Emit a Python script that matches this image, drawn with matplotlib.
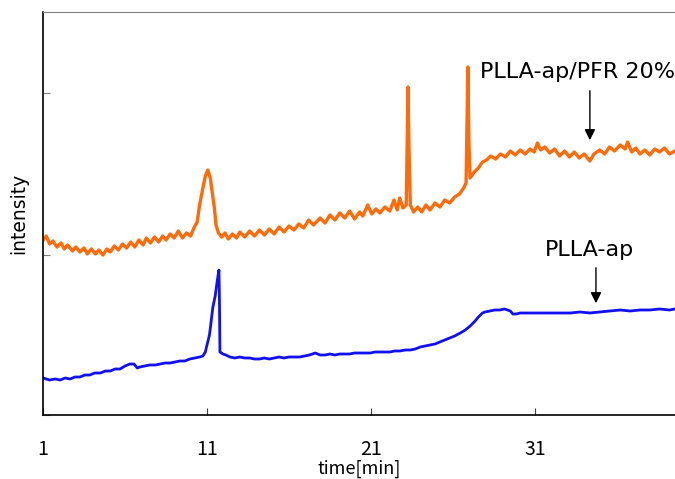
import matplotlib
matplotlib.use("Agg")
import matplotlib.pyplot as plt

# chromatogram traces (time in min, intensity in arbitrary units)
orange_t = [1.0, 1.2, 1.4, 1.6, 1.85, 2.1, 2.3, 2.5, 2.8, 3.0, 3.25, 3.5, 3.7, 3.95, 4.2, 4.4,
            4.65, 4.9, 5.1, 5.35, 5.6, 5.85, 6.1, 6.35, 6.6, 6.85, 7.1, 7.3, 7.55, 7.8, 8.05, 8.3,
            8.5, 8.75, 9.0, 9.25, 9.5, 9.75, 10.0, 10.2, 10.4, 10.55, 10.75, 10.9, 11.05, 11.2,
            11.3, 11.45, 11.55, 11.7, 11.9, 12.1, 12.3, 12.55, 12.8, 13.0, 13.3, 13.6, 13.9, 14.2,
            14.5, 14.8, 15.1, 15.4, 15.7, 16.0, 16.3, 16.6, 16.9, 17.2, 17.5, 17.9, 18.2, 18.5,
            18.8, 19.1, 19.4, 19.7, 20.0, 20.3, 20.5, 20.8, 21.05, 21.3, 21.55, 21.85, 22.15, 22.4,
            22.6, 22.75, 22.95, 23.15, 23.2, 23.26, 23.32, 23.4, 23.6, 23.85, 24.1, 24.35, 24.6,
            24.9, 25.2, 25.5, 25.8, 26.1, 26.4, 26.65, 26.8, 26.86, 26.91, 26.97, 27.04, 27.3,
            27.55, 27.8, 28.05, 28.3, 28.6, 28.9, 29.2, 29.5, 29.8, 30.1, 30.4, 30.7, 30.95, 31.15,
            31.35, 31.6, 31.9, 32.2, 32.5, 32.8, 33.1, 33.4, 33.7, 34.0, 34.35, 34.6, 34.95, 35.25,
            35.55, 35.85, 36.2, 36.5, 36.65, 36.9, 37.15, 37.4, 37.7, 38.0, 38.3, 38.6, 38.9, 39.2,
            39.54]
orange_i = [175, 179, 171, 174, 168, 172, 166, 170, 164, 168, 163, 167, 161, 166, 161, 165,
            160, 166, 163, 169, 165, 171, 167, 173, 168, 175, 170, 177, 172, 178, 173, 179,
            175, 181, 177, 184, 177, 182, 179, 187, 193, 210, 227, 239, 245, 237,
            225, 207, 190, 182, 178, 182, 176, 181, 177, 183, 178, 184, 179, 185,
            180, 186, 181, 188, 183, 189, 185, 191, 187, 195, 190, 197, 192, 200,
            195, 202, 197, 204, 196, 203, 199, 210, 201, 206, 202, 208, 204, 215,
            205, 217, 207, 210, 265, 328, 265, 210, 203, 208, 203, 210, 205,
            212, 208, 215, 212, 218, 221, 227, 232, 295, 348, 275, 237, 243,
            247, 253, 255, 259, 256, 261, 258, 264, 260, 265, 261, 266, 263, 272,
            265, 268, 262, 266, 259, 264, 258, 263, 257, 261, 254, 261, 265, 261,
            268, 264, 270, 266, 273, 263, 267, 261, 265, 260, 266, 263, 267, 261,
            264]

blue_t = [1.0, 1.4, 1.75, 2.05, 2.35, 2.65, 2.95, 3.25, 3.55, 3.85, 4.15, 4.5, 4.8, 5.1, 5.4,
          5.7, 6.0, 6.3, 6.55, 6.75, 6.9, 7.2, 7.5, 7.85, 8.15, 8.45, 8.75, 9.05, 9.35, 9.65,
          9.95, 10.25, 10.55, 10.75, 10.9, 11.0, 11.15, 11.25, 11.35, 11.5, 11.6, 11.67, 11.73,
          11.76, 11.79, 11.97, 12.15, 12.4, 12.7, 13.0, 13.3, 13.6, 13.9, 14.2, 14.5, 14.8,
          15.1, 15.4, 15.7, 16.0, 16.3, 16.65, 16.95, 17.25, 17.6, 17.9, 18.2, 18.5, 18.8,
          19.1, 19.4, 19.7, 20.0, 20.3, 20.6, 20.95, 21.25, 21.55, 21.85, 22.15, 22.45, 22.75,
          23.1, 23.4, 23.7, 24.0, 24.3, 24.6, 24.9, 25.2, 25.5, 25.8, 26.1, 26.45, 26.75,
          27.05, 27.35, 27.55, 27.8, 27.95, 28.25, 28.55, 28.85, 29.15, 29.5, 29.65, 29.85,
          30.1, 30.7, 31.3, 31.9, 32.5, 33.15, 33.75, 34.35, 34.95, 35.55, 36.2, 36.8, 37.4,
          38.0, 38.6, 39.2, 39.54]
blue_i = [37, 35, 36, 35, 37, 36, 38, 38, 40, 40, 42, 42, 44, 44, 46,
          46, 49, 51, 51, 47, 48, 49, 50, 50, 51, 52, 52, 53, 54, 54,
          56, 57, 58, 59, 63, 70, 80, 93, 107, 119, 131, 139, 145,
          115, 63, 61, 60, 58, 57, 58, 57, 57, 56, 56, 57, 56,
          57, 58, 57, 58, 58, 58, 59, 60, 62, 60, 60, 61, 60,
          61, 61, 61, 62, 62, 62, 62, 63, 63, 63, 63, 64, 64,
          65, 65, 66, 68, 69, 70, 71, 73, 75, 77, 79, 82, 85,
          89, 94, 98, 102, 103, 104, 105, 105, 106, 104, 101, 101,
          102, 102, 102, 102, 102, 102, 103, 102, 103, 104, 105, 104, 105,
          105, 106, 105, 106]

x_ticks = [1, 11, 21, 31]
y_ticks = [0, 160, 322]

fig = plt.figure(figsize=(6.75, 4.79), dpi=100)
ax = fig.add_axes([43 / 675, 64 / 479, 632 / 675, 403 / 479])

ax.plot(orange_t, orange_i, color='#ff6a0a', lw=2.4, solid_joinstyle='round')
ax.plot(blue_t, blue_i, color='#1010f0', lw=2.0, solid_joinstyle='round')

ax.set_xlim(1, 39.54)
ax.set_ylim(0, 403)

ax.spines['right'].set_visible(False)
ax.spines['top'].set_color('#808080')
ax.spines['left'].set_linewidth(1.2)
ax.spines['bottom'].set_linewidth(1.2)

ax.set_xticks(x_ticks)
ax.set_xticklabels([str(v) for v in x_ticks], family='Noto Sans CJK JP', fontsize=14)
ax.tick_params(axis='x', direction='in', length=5, color='#404040', pad=17)
ax.set_yticks(y_ticks)
ax.set_yticklabels([])
ax.tick_params(axis='y', direction='in', length=5, color='#808080')

ax.set_xlabel('time[min]', family='Noto Sans CJK JP', fontsize=13, labelpad=0)
ax.set_ylabel('intensity', fontsize=13.5, labelpad=7)

# labels with arrows
ax.annotate('', xy=(34.35, 272), xytext=(34.35, 327),
            arrowprops=dict(arrowstyle='-|>', color='black', lw=1, mutation_scale=16))
ax.text(27.65, 343, 'PLLA-ap/PFR 20%', fontsize=16, va='center', ha='left')
ax.annotate('', xy=(34.72, 109), xytext=(34.72, 150),
            arrowprops=dict(arrowstyle='-|>', color='black', lw=1, mutation_scale=16))
ax.text(31.6, 165, 'PLLA-ap', fontsize=16, va='center', ha='left')

fig.savefig('out.png', dpi=100)
